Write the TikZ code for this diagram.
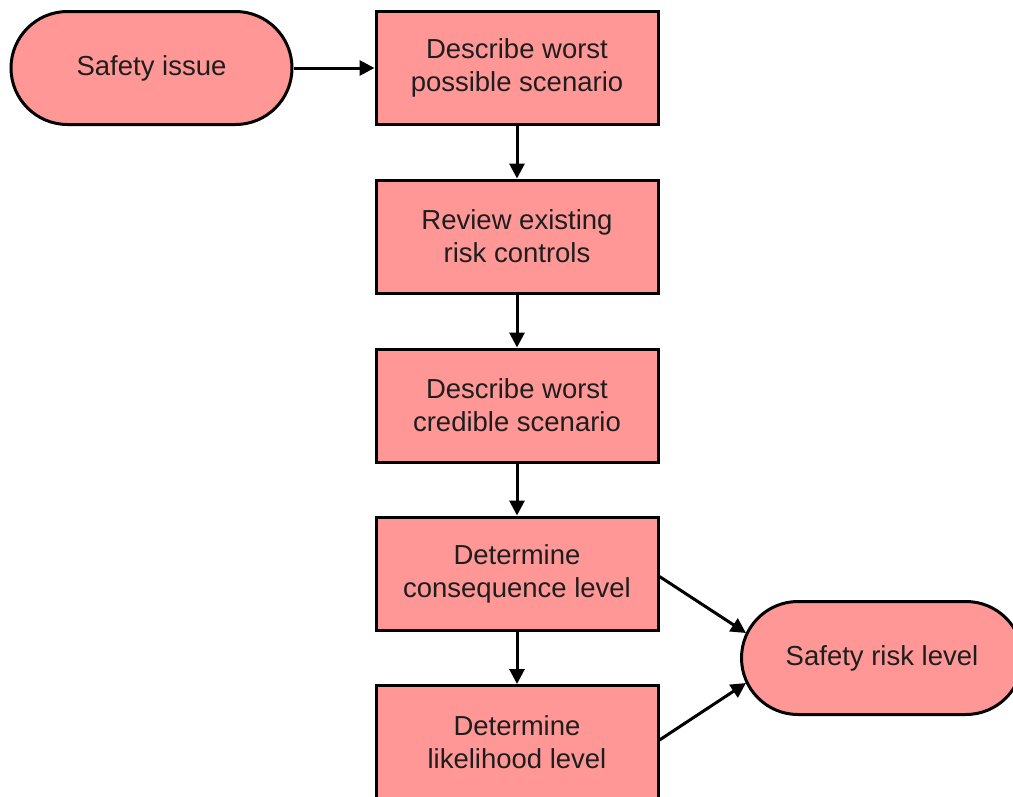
\documentclass[tikz,border=0pt]{standalone}
\usepackage{fontspec}
\setmainfont{Liberation Sans}
\usetikzlibrary{arrows.meta,calc}
\definecolor{boxfill}{RGB}{255,151,151}
\definecolor{txt}{RGB}{30,30,30}
\tikzset{
  base/.style={draw=black, line width=3pt, fill=boxfill, text=txt, align=center,
    font=\fontsize{27.5}{33}\selectfont, inner sep=0pt},
  stepbox/.style={base, minimum width=282pt, minimum height=113pt},
  term/.style={base, minimum width=281pt, minimum height=113pt, rounded corners=56.5pt},
  conn/.style={line width=3pt, -{Triangle[length=15pt,width=15pt]}}
}
\begin{document}
\begin{tikzpicture}[x=1pt,y=-1pt]
\useasboundingbox (0,0) rectangle (1013,796);
\clip (0,0) rectangle (1013,796);
\node[term] (si) at (151.5,68) {Safety issue};
\node[stepbox] (b1) at (517,68) {Describe worst\\possible scenario};
\node[stepbox] (b2) at (517,236.5) {Review existing\\risk controls};
\node[stepbox] (b3) at (517,405.5) {Describe worst\\credible scenario};
\node[stepbox] (b4) at (517,573.5) {Determine\\consequence level};
\node[stepbox] (b5) at (517,742) {Determine\\likelihood level};
\node[term] (srl) at (882,658) {Safety risk level};
\draw[conn] (si) -- (b1);
\draw[conn] (b1) -- (b2);
\draw[conn] (b2) -- (b3);
\draw[conn] (b3) -- (b4);
\draw[conn] (b4) -- (b5);
\draw[conn] ($(b4.east)+(0,3)$) -- ($(srl.west)+(6,-25)$);
\draw[conn] ($(b5.east)+(0,-2)$) -- ($(srl.west)+(6,25)$);
\end{tikzpicture}
\end{document}
